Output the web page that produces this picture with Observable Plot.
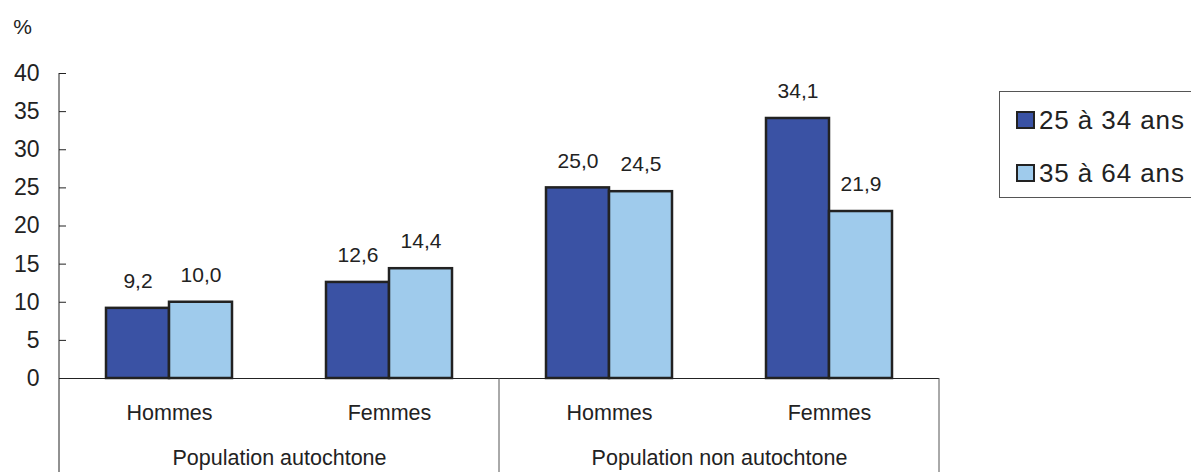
<!DOCTYPE html>
<html>
<head>
<meta charset="utf-8">
<script src="https://cdn.jsdelivr.net/npm/d3@7"></script>
<script src="https://cdn.jsdelivr.net/npm/@observablehq/plot@0.6"></script>
<style>
  html, body { margin: 0; padding: 0; background: #fff; }
  body { width: 1191px; height: 472px; position: relative; overflow: hidden; font-family: "Liberation Sans", Arial, sans-serif; }
  #chart { position: absolute; left: 0; top: 0; }
  #legend { position: absolute; left: 999px; top: 91px; width: 220px; height: 107px; border: 1px solid #555; box-sizing: border-box; background: #fff; }
  .item { position: absolute; left: 16px; display: flex; align-items: center; font-size: 26px; letter-spacing: 0.9px; color: #222; height: 30px; }
  .sw { width: 15px; height: 14px; border: 2px solid #222; margin-right: 4px; }
</style>
</head>
<body>
<div id="chart"></div>
<div id="legend"></div>
<script>
const groups = ["Population autochtone", "Population non autochtone"];
const sexes = ["Hommes", "Femmes"];
const ages = ["25 à 34 ans", "35 à 64 ans"];
const values25_34 = [9.2, 12.6, 25.0, 34.1];
const values35_64 = [10.0, 14.4, 24.5, 21.9];
const yTicks = [0, 5, 10, 15, 20, 25, 30, 35, 40];
const colors = ["#3A52A4", "#9FCBEC"];

const cats = [];
groups.forEach(g => sexes.forEach(s => cats.push({key: g + "|" + s, group: g, sex: s})));
const data = [];
cats.forEach((c, i) => {
  data.push({key: c.key, age: ages[0], value: values25_34[i]});
  data.push({key: c.key, age: ages[1], value: values35_64[i]});
});
const fmt = v => v.toFixed(1).replace(".", ",");
const groupLabels = groups.map(g => ({key: g + "|" + sexes[0], label: g}));

const chart = Plot.plot({
  width: 1191,
  height: 472,
  marginLeft: 59,
  marginRight: 252,
  marginTop: 73,
  marginBottom: 94,
  style: {fontFamily: "'Liberation Sans', Arial, sans-serif", color: "#222", background: "#fff"},
  fx: {domain: cats.map(c => c.key), padding: 0, axis: null},
  x: {domain: ages, paddingInner: 0, paddingOuter: 0.72, axis: null},
  y: {domain: [0, 40], ticks: yTicks, label: null},
  color: {domain: ages, range: colors},
  marks: [
    Plot.axisY({ticks: yTicks, tickSize: -7, tickPadding: 27, fontSize: 23, label: null, stroke: "#222"}),
    Plot.barY(data, {fx: "key", x: "age", y: "value", fill: "age", stroke: "#222", strokeWidth: 2.5}),
    Plot.text(data, {fx: "key", x: "age", y: "value", text: d => fmt(d.value), dy: -27, fontSize: 21, fill: "#222"}),
    Plot.ruleY([0], {stroke: "#222", strokeWidth: 1}),
    Plot.text(cats, {fx: "key", text: "sex", frameAnchor: "bottom", lineAnchor: "middle", dy: 35, fontSize: 21.5, fill: "#222"}),
    Plot.text(groupLabels, {fx: "key", text: "label", frameAnchor: "bottom", lineAnchor: "middle", dy: 80, dx: 110, fontSize: 21.5, fill: "#222"}),
    Plot.text(["%"], {fx: () => cats[0].key, text: d => d, frameAnchor: "top-left", lineAnchor: "middle", dx: -37, dy: -46, fontSize: 21, fill: "#222", textAnchor: "middle"})
  ]
});
document.getElementById("chart").appendChild(chart);

// y-axis line and separator lines below the axis, positioned from Plot's scales
const fx = chart.scale("fx");
const yS = chart.scale("y");
const svg = d3.select(chart);
const y0 = yS.apply(0);
const yTop = yS.apply(40);
const xs = [fx.apply(cats[0].key), fx.apply(cats[2].key), fx.apply(cats[3].key) + fx.bandwidth];
xs.forEach((x, i) => {
  svg.append("line").attr("x1", x).attr("x2", x).attr("y1", i === 0 ? yTop : y0).attr("y2", 472)
    .attr("stroke", i === 0 ? "#222" : "#555").attr("stroke-width", 1);
});

const legend = document.getElementById("legend");
ages.forEach((a, i) => {
  const it = document.createElement("div");
  it.className = "item";
  it.style.top = (i === 0 ? 13 : 66) + "px";
  it.innerHTML = `<div class="sw" style="background:${colors[i]}"></div><span>${a}</span>`;
  legend.appendChild(it);
});
</script>
</body>
</html>
